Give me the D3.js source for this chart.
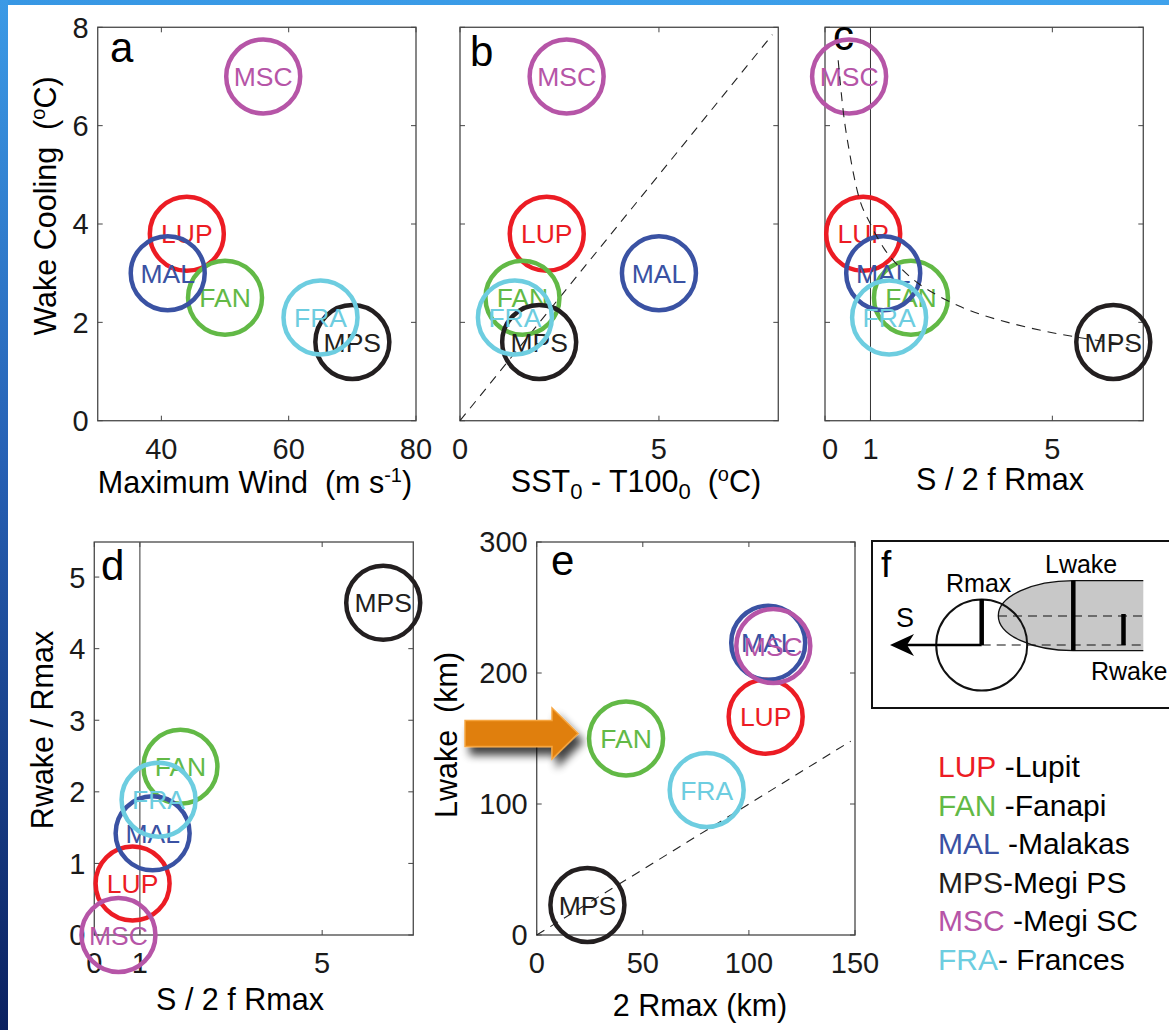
<!DOCTYPE html>
<html><head><meta charset="utf-8">
<script src="https://cdn.jsdelivr.net/npm/d3@7"></script>
<style>
html,body{margin:0;padding:0;background:#fff;}
svg{display:block;font-family:"Liberation Sans",Arial,Helvetica,sans-serif;}
</style></head><body>
<svg id="fig" width="1169" height="1030"></svg>
<script>
// Storm identifiers and names
const storms = ["LUP", "FAN", "MAL", "MPS", "MSC", "FRA"];
const stormNames = [" -Lupit", " -Fanapi", " -Malakas", "-Megi PS", " -Megi SC", "- Frances"];
const stormColors = ["#ec1c24", "#62b946", "#3a52a3", "#231f20", "#b655a7", "#6dcde0"];

// Per-storm values
const maxWind      = [44, 50, 41, 70, 56, 65];           // m s-1
const wakeCooling  = [3.8, 2.5, 3.0, 1.6, 7.0, 2.1];     // degC
const sstMinusT100 = [2.18, 1.57, 5.0, 1.99, 2.68, 1.38]; // degC
const speedRatio   = [0.84, 1.89, 1.28, 6.34, 0.53, 1.41]; // S / 2 f Rmax
const rwakeRatio   = [0.72, 2.35, 1.42, 4.64, 0.0, 1.89]; // Rwake / Rmax
const twoRmax      = [107.9, 42.1, 109.1, 23.9, 111.5, 80.1]; // km
const lwake        = [166.6, 150, 223, 22.9, 220.6, 110.7];   // km

// Reference lines
const oneToOneB = [[0, 0], [7.85, 7.85]];
const oneToOneE = [[0, 0], [148, 148]];
const coolingFitX = [0.29, 0.4, 0.55, 0.73, 1.0, 1.3, 1.7, 2.1, 2.53, 3.0, 3.5, 4.14, 5.0, 5.8, 6.7];
const coolingFitY = [7.33, 6.3, 5.4, 4.6, 4.0, 3.5, 3.07, 2.76, 2.52, 2.31, 2.14, 1.97, 1.79, 1.66, 1.54];

// Tick values
const ticksA = {x: [40, 60, 80], y: [0, 2, 4, 6, 8]};
const ticksB = {x: [0, 5], y: [0, 2, 4, 6, 8]};
const ticksC = {x: [0, 1, 5], y: [0, 2, 4, 6, 8]};
const ticksD = {x: [0, 1, 5], y: [0, 1, 2, 3, 4, 5]};
const ticksE = {x: [0, 50, 100, 150], y: [0, 100, 200, 300]};

const svg = d3.select("#fig");
const NB = "\u00a0";

// frame strips along the left and top edges
const defs = svg.append("defs");
const lg = defs.append("linearGradient").attr("id", "edgeGrad").attr("x1", 0).attr("y1", 0).attr("x2", 0).attr("y2", 1);
lg.append("stop").attr("offset", "0%").attr("stop-color", "#3b9ae6");
lg.append("stop").attr("offset", "45%").attr("stop-color", "#2660b4");
lg.append("stop").attr("offset", "100%").attr("stop-color", "#0b2160");
const tg = defs.append("linearGradient").attr("id", "topGrad").attr("x1", 0).attr("y1", 0).attr("x2", 1).attr("y2", 0);
tg.append("stop").attr("offset", "0%").attr("stop-color", "#3797e4");
tg.append("stop").attr("offset", "100%").attr("stop-color", "#3fa2ec");
svg.append("rect").attr("x", 0).attr("y", 0).attr("width", 1169).attr("height", 5).attr("fill", "url(#topGrad)");
svg.append("rect").attr("x", 0).attr("y", 0).attr("width", 8).attr("height", 1030).attr("fill", "url(#edgeGrad)");

// drop shadow for the highlight arrow
const sh = defs.append("filter").attr("id", "shadow").attr("x", "-30%").attr("y", "-50%").attr("width", "170%").attr("height", "220%");
sh.append("feGaussianBlur").attr("in", "SourceAlpha").attr("stdDeviation", 4).attr("result", "b");
sh.append("feOffset").attr("in", "b").attr("dx", 5).attr("dy", 8).attr("result", "o");
sh.append("feComponentTransfer").attr("in", "o").attr("result", "s")
  .append("feFuncA").attr("type", "linear").attr("slope", 0.75);
const mg = sh.append("feMerge");
mg.append("feMergeNode").attr("in", "s");
mg.append("feMergeNode").attr("in", "SourceGraphic");

const R = 37;

function panel(cfg) {
  const x = d3.scaleLinear().domain(cfg.xDomain).range([cfg.x0, cfg.x1]);
  const y = d3.scaleLinear().domain(cfg.yDomain).range([cfg.y1, cfg.y0]);
  const g = svg.append("g");
  const tl = 5;
  // box
  g.append("rect").attr("x", cfg.x0).attr("y", cfg.y0)
    .attr("width", cfg.x1 - cfg.x0).attr("height", cfg.y1 - cfg.y0)
    .attr("fill", "none").attr("stroke", "#555").attr("stroke-width", 1.4);
  // inward ticks on all four sides
  cfg.ticks.x.forEach(v => {
    const px = x(v);
    g.append("line").attr("x1", px).attr("x2", px).attr("y1", cfg.y1).attr("y2", cfg.y1 - tl).attr("stroke", "#444");
    g.append("line").attr("x1", px).attr("x2", px).attr("y1", cfg.y0).attr("y2", cfg.y0 + tl).attr("stroke", "#444");
    g.append("text").attr("x", px + (cfg.xLabelShift ? cfg.xLabelShift(v) : 0)).attr("y", cfg.y1 + 38)
      .attr("text-anchor", "middle").attr("font-size", 29).attr("fill", "#1a1a1a").text(v);
  });
  cfg.ticks.y.forEach(v => {
    const py = y(v);
    g.append("line").attr("y1", py).attr("y2", py).attr("x1", cfg.x0).attr("x2", cfg.x0 + tl).attr("stroke", "#444");
    g.append("line").attr("y1", py).attr("y2", py).attr("x1", cfg.x1).attr("x2", cfg.x1 - tl).attr("stroke", "#444");
    if (cfg.yLabels) {
      g.append("text").attr("x", cfg.x0 - 9).attr("y", py).attr("dy", "0.36em")
        .attr("text-anchor", "end").attr("font-size", 29).attr("fill", "#1a1a1a").text(v);
    }
  });
  // panel letter
  g.append("text").attr("x", cfg.letter[0]).attr("y", cfg.letter[1]).attr("font-size", 42)
    .attr("fill", "#000").text(cfg.id);
  if (cfg.extra) cfg.extra(g, x, y);
  // storms
  storms.forEach((s, i) => {
    const cx = x(cfg.xVals[i]), cy = y(cfg.yVals[i]);
    const sg = g.append("g");
    sg.append("circle").attr("cx", cx).attr("cy", cy).attr("r", R)
      .attr("fill", "none").attr("stroke", stormColors[i]).attr("stroke-width", 4.5);
    sg.append("text").attr("x", cx).attr("y", cy).attr("dy", "0.36em")
      .attr("text-anchor", "middle").attr("font-size", 26.5).attr("fill", stormColors[i]).text(s);
  });
  if (cfg.after) cfg.after(g, x, y);
  return {x, y};
}

const dashed = (g, x, y, pts) => g.append("path")
  .attr("d", d3.line().x(d => x(d[0])).y(d => y(d[1])).curve(d3.curveMonotoneX)(pts))
  .attr("fill", "none").attr("stroke", "#222").attr("stroke-width", 1.1).attr("stroke-dasharray", "9,7");

// a
panel({id: "a", x0: 97.7, x1: 416, y0: 27.3, y1: 420.7, xDomain: [30, 80], yDomain: [0, 8],
  ticks: ticksA, yLabels: true, letter: [110, 62], xVals: maxWind, yVals: wakeCooling});

// b
panel({id: "b", x0: 460, x1: 778.3, y0: 27.3, y1: 420.7, xDomain: [0, 8], yDomain: [0, 8],
  ticks: ticksB, yLabels: false, letter: [470, 66], xVals: sstMinusT100, yVals: wakeCooling,
  extra: (g, x, y) => dashed(g, x, y, oneToOneB)});

// c
panel({id: "c", x0: 825, x1: 1143.3, y0: 27.3, y1: 420.7, xDomain: [0, 7], yDomain: [0, 8],
  ticks: ticksC, yLabels: false, letter: [833, 50], xVals: speedRatio, yVals: wakeCooling,
  xLabelShift: v => v === 0 ? 5 : 0,
  extra: (g, x, y) => {
    g.append("line").attr("x1", x(1)).attr("x2", x(1)).attr("y1", y(0)).attr("y2", y(8))
      .attr("stroke", "#333").attr("stroke-width", 1);
  },
  after: (g, x, y) => dashed(g, x, y, coolingFitX.map((v, i) => [v, coolingFitY[i]]))});

// d
panel({id: "d", x0: 94.3, x1: 413.3, y0: 542, y1: 935, xDomain: [0, 7], yDomain: [0, 5.49],
  ticks: ticksD, yLabels: true, letter: [101, 580], xVals: speedRatio, yVals: rwakeRatio,
  extra: (g, x, y) => {
    g.append("line").attr("x1", x(1)).attr("x2", x(1)).attr("y1", y(0)).attr("y2", y(5.49))
      .attr("stroke", "#555").attr("stroke-width", 1.2);
  }});

// e
panel({id: "e", x0: 536.7, x1: 855, y0: 542, y1: 935, xDomain: [0, 150], yDomain: [0, 300],
  ticks: ticksE, yLabels: true, letter: [551, 575], xVals: twoRmax, yVals: lwake,
  extra: (g, x, y) => dashed(g, x, y, oneToOneE),
  after: (g, x, y) => {
    // highlight arrow pointing at FAN
    const k = storms.indexOf("FAN");
    const tx = x(twoRmax[k]) - 48, ty = y(lwake[k]) - 5;
    const pts = [[tx - 113, ty - 13], [tx - 26, ty - 13], [tx - 26, ty - 25.5], [tx, ty],
                 [tx - 26, ty + 25.5], [tx - 26, ty + 13], [tx - 113, ty + 13]];
    g.append("path").attr("d", "M" + pts.join("L") + "Z")
      .attr("fill", "#e07f0b").attr("stroke", "#f6a53f").attr("stroke-width", 1.5)
      .attr("filter", "url(#shadow)");
  }});

// axis titles
const T = (x, y, rot) => {
  const t = svg.append("text").attr("font-size", 30.5).attr("fill", "#000");
  if (rot) t.attr("transform", `translate(${x},${y}) rotate(-90)`).attr("text-anchor", "middle");
  else t.attr("x", x).attr("y", y).attr("text-anchor", "middle");
  return t;
};
const sup = (t, s) => t.append("tspan").attr("font-size", 20).attr("baseline-shift", "55%").text(s);
const sub = (t, s) => t.append("tspan").attr("font-size", 22).attr("baseline-shift", "-30%").text(s);
const norm = (t, s) => t.append("tspan").text(s);

let t = T(255, 493);
norm(t, "Maximum Wind" + NB + NB + "(m s"); sup(t, "-1"); norm(t, ")");

t = T(56, 206, true);
norm(t, "Wake Cooling" + NB + NB + "("); sup(t, "o"); norm(t, "C)");

t = T(636, 492);
norm(t, "SST"); sub(t, "0"); norm(t, " - T100"); sub(t, "0"); norm(t, NB + NB + "("); sup(t, "o"); norm(t, "C)");

T(1000, 490).text("S / 2 f Rmax");
T(240, 1010).text("S / 2 f Rmax");
T(53, 730, true).text("Rwake / Rmax");
T(700, 1016).text("2 Rmax (km)");
T(457, 735, true).text("Lwake" + NB + NB + "(km)");

// f: schematic of the cold wake
const f = svg.append("g");
f.append("rect").attr("x", 872).attr("y", 541).attr("width", 320).attr("height", 167)
  .attr("fill", "#fff").attr("stroke", "#111").attr("stroke-width", 2);
f.append("text").attr("x", 881).attr("y", 577).attr("font-size", 37).text("f");
// wake shape: elliptical leading edge, open to the right
const wy0 = 580.7, wy1 = 650.7, wcx = 1073.3, wrx = 75, wx1 = 1143.3;
const wry = (wy1 - wy0) / 2;
f.append("path")
  .attr("d", `M${wx1},${wy0} L${wcx},${wy0} A${wrx},${wry} 0 0 0 ${wcx},${wy1} L${wx1},${wy1} Z`)
  .attr("fill", "#c8c8c8").attr("stroke", "none");
f.append("path")
  .attr("d", `M${wx1},${wy0} L${wcx},${wy0} A${wrx},${wry} 0 0 0 ${wcx},${wy1} L${wx1},${wy1}`)
  .attr("fill", "none").attr("stroke", "#111").attr("stroke-width", 1.3);
// storm circle
const ccx = 981.7, ccy = 645, cr = 45.5;
f.append("circle").attr("cx", ccx).attr("cy", ccy).attr("r", cr).attr("fill", "none").attr("stroke", "#111").attr("stroke-width", 2);
// dashed guides
f.append("line").attr("x1", 998).attr("x2", wx1).attr("y1", 616).attr("y2", 616)
  .attr("stroke", "#111").attr("stroke-width", 1.2).attr("stroke-dasharray", "9,6");
f.append("line").attr("x1", ccx).attr("x2", wx1).attr("y1", ccy).attr("y2", ccy)
  .attr("stroke", "#111").attr("stroke-width", 1.2).attr("stroke-dasharray", "9,6");
// Rmax, Lwake, Rwake bars
f.append("line").attr("x1", ccx).attr("x2", ccx).attr("y1", 599).attr("y2", ccy).attr("stroke", "#000").attr("stroke-width", 4.5);
f.append("line").attr("x1", wcx).attr("x2", wcx).attr("y1", wy0).attr("y2", wy1).attr("stroke", "#000").attr("stroke-width", 4.5);
f.append("line").attr("x1", 1123.5).attr("x2", 1123.5).attr("y1", 614).attr("y2", ccy).attr("stroke", "#000").attr("stroke-width", 4.5);
// translation arrow
f.append("line").attr("x1", ccx).attr("x2", 900).attr("y1", ccy).attr("y2", ccy).attr("stroke", "#000").attr("stroke-width", 2.5);
f.append("path").attr("d", `M890,${ccy} L914,${ccy - 11} L907,${ccy} L914,${ccy + 11} Z`).attr("fill", "#000");
f.append("text").attr("x", 896).attr("y", 627).attr("font-size", 27).text("S");
f.append("text").attr("x", 946).attr("y", 592).attr("font-size", 25).text("Rmax");
f.append("text").attr("x", 1045).attr("y", 573).attr("font-size", 25).text("Lwake");
f.append("text").attr("x", 1091).attr("y", 680).attr("font-size", 25).text("Rwake");

// legend
const leg = svg.append("g");
storms.forEach((s, i) => {
  const tt = leg.append("text").attr("x", 938).attr("y", 777 + i * 38.5).attr("font-size", 30);
  tt.append("tspan").attr("fill", stormColors[i]).text(s);
  tt.append("tspan").attr("fill", "#000").text(stormNames[i].replace(/^ /, NB));
});
</script>
</body></html>
